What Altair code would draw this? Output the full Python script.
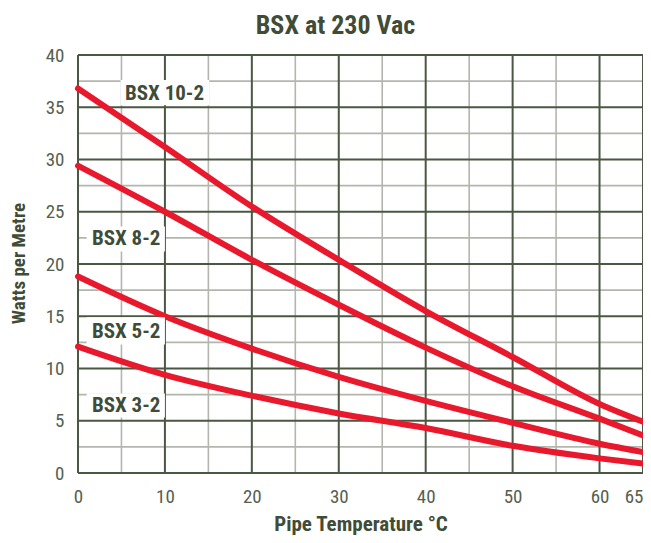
import altair as alt
import pandas as pd

# ---- data ----
temps = [0, 10, 20, 30, 40, 50, 60, 65]
bsx_10_2 = [36.8, 31.2, 25.5, 20.4, 15.5, 11.1, 6.6, 4.9]
bsx_8_2 = [29.4, 25.0, 20.4, 16.1, 12.0, 8.3, 5.2, 3.6]
bsx_5_2 = [18.8, 15.0, 11.9, 9.2, 6.9, 4.8, 2.8, 2.0]
bsx_3_2 = [12.1, 9.4, 7.4, 5.7, 4.3, 2.6, 1.4, 0.9]
series_names = ["BSX 10-2", "BSX 8-2", "BSX 5-2", "BSX 3-2"]

x_ticks = [0, 10, 20, 30, 40, 50, 60, 65]
y_ticks = [0, 5, 10, 15, 20, 25, 30, 35, 40]
x_minor = [5, 15, 25, 35, 45, 55]
y_minor = [2.5, 7.5, 12.5, 17.5, 22.5, 27.5, 32.5, 37.5]

# label annotation anchors (data units)
label_x = [5.4, 1.6, 1.6, 1.6]
label_y = [36.3, 22.4, 13.5, 6.4]
box_x1 = [4.9, 1.0, 1.0, 1.0]
box_x2 = [15.1, 10.0, 10.0, 10.0]
box_y1 = [35.2, 21.2, 12.3, 5.3]
box_y2 = [37.6, 23.6, 14.9, 7.6]

FONT = "Liberation Sans Narrow, Roboto Condensed, Arial Narrow, sans-serif"
GREEN = "#4a5743"
TXT = "#3f4c38"

rows = []
for name, vals in zip(series_names, [bsx_10_2, bsx_8_2, bsx_5_2, bsx_3_2]):
    for t, v in zip(temps, vals):
        rows.append({"series": name, "t": t, "w": v})
df = pd.DataFrame(rows)

labels = pd.DataFrame({
    "name": series_names, "lx": label_x, "ly": label_y,
    "bx1": box_x1, "bx2": box_x2, "by1": box_y1, "by2": box_y2,
})

xs = alt.Scale(domain=[0, 65], nice=False, zero=False)
ys = alt.Scale(domain=[0, 40], nice=False)

AX = dict(labelFont=FONT, labelFontSize=19, labelColor="#55604f",
          titleFont=FONT, titleFontWeight="bold", titleColor=TXT,
          grid=False, ticks=False, domain=False)
axis_x = alt.Axis(values=x_ticks, labelPadding=14, title="Pipe Temperature °C",
                  titleFontSize=21, titleY=57, titleBaseline="alphabetic",
                  labelFlush=False,
                  labelAlign={"condition": {"test": "datum.value === 65", "value": "right"},
                              "value": "center"},
                  **AX)
axis_y = alt.Axis(values=y_ticks, labelPadding=14, title="Watts per Metre",
                  titleFontSize=19, titleX=-54, titleY=208, titleAngle=-90,
                  titleBaseline="alphabetic", titleAlign="center", **AX)

minor_x = alt.Chart(pd.DataFrame({"v": x_minor})).mark_rule(
    color="#b4b6ae", strokeWidth=1.6).encode(x=alt.X("v:Q", scale=xs, axis=axis_x))
minor_y = alt.Chart(pd.DataFrame({"v": y_minor})).mark_rule(
    color="#b4b6ae", strokeWidth=1.6).encode(y=alt.Y("v:Q", scale=ys, axis=axis_y))
major_x = alt.Chart(pd.DataFrame({"v": x_ticks})).mark_rule(
    color=GREEN, strokeWidth=2).encode(x=alt.X("v:Q", scale=xs, axis=axis_x))
major_y = alt.Chart(pd.DataFrame({"v": y_ticks})).mark_rule(
    color=GREEN, strokeWidth=2).encode(y=alt.Y("v:Q", scale=ys, axis=axis_y))

lines = alt.Chart(df).mark_line(
    color="#e8192c", strokeWidth=6, interpolate="monotone", strokeCap="round"
).encode(
    x=alt.X("t:Q", scale=xs, axis=axis_x),
    y=alt.Y("w:Q", scale=ys, axis=axis_y),
    detail="series:N",
)

boxes = alt.Chart(labels).mark_rect(color="white").encode(
    x=alt.X("bx1:Q", scale=xs, axis=axis_x), x2="bx2",
    y=alt.Y("by1:Q", scale=ys, axis=axis_y), y2="by2")

texts = alt.Chart(labels).mark_text(
    align="left", baseline="middle", font=FONT, fontSize=21, fontWeight="bold",
    color=TXT).encode(x=alt.X("lx:Q", scale=xs, axis=axis_x),
                      y=alt.Y("ly:Q", scale=ys, axis=axis_y), text="name:N")

chart = alt.layer(minor_x, minor_y, major_x, major_y, lines, boxes, texts).properties(
    width=565, height=418,
    title=alt.TitleParams("BSX at 230 Vac", font=FONT, fontSize=26, fontWeight="bold",
                          color=TXT, anchor="middle", dx=-25, offset=7),
    autosize=alt.AutoSizeParams(type="none"),
    padding={"left": 70, "top": 47, "right": 0, "bottom": 62},
).configure_view(stroke=None)

chart.save("out.html", embed_options={"renderer": "svg", "actions": False})
